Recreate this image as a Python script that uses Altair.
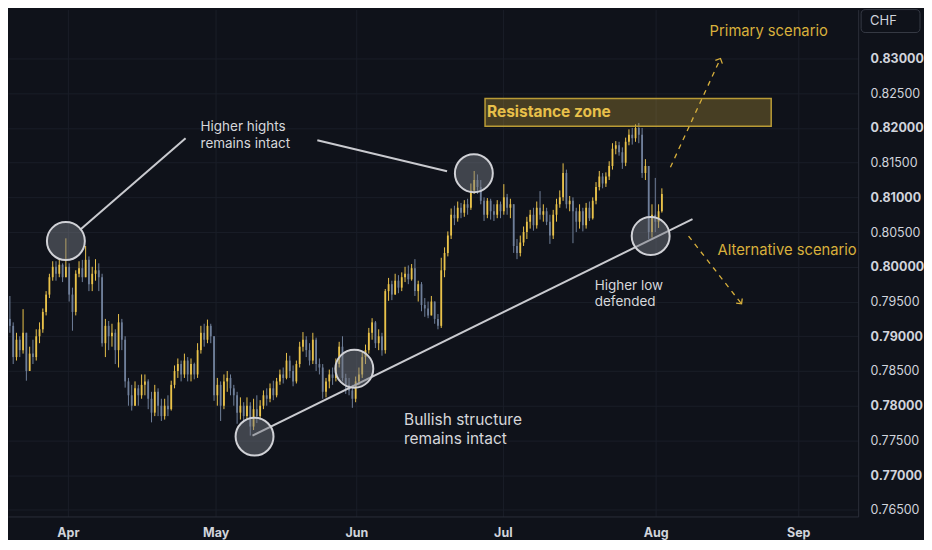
import json
import altair as alt
import pandas as pd

# ---------------- data (prices in pips, 1 pip = 0.0001) ----------------
first_open = 7845
close_p = [7850,7880,7925,7915,7870,7895,7880,7905,7850,7875,
7870,7900,7910,7935,7960,7985,8000,7990,8003,7985,
8000,7960,7935,7990,7998,7985,8010,7975,7990,7995,
7985,7890,7915,7900,7905,7880,7920,7895,7835,7815,
7800,7825,7815,7830,7835,7810,7790,7820,7800,7785,
7800,7795,7830,7850,7860,7845,7865,7845,7860,7845,
7880,7905,7895,7915,7900,7815,7830,7800,7835,7840,
7825,7815,7790,7800,7785,7800,7770,7795,7785,7800,
7815,7810,7825,7815,7835,7845,7840,7865,7850,7835,
7860,7885,7895,7880,7865,7895,7860,7855,7820,7835,
7845,7840,7860,7885,7840,7830,7822,7810,7835,7845,
7870,7880,7905,7920,7890,7900,7880,7965,7975,7960,
7980,7970,7985,7990,7982,7998,7965,7975,7945,7940,
7930,7950,7925,7915,7995,8020,8045,8075,8070,8085,
8078,8090,8085,8110,8125,8115,8095,8075,8095,8080,
8075,8090,8080,8100,8085,8090,8030,8020,8035,8050,
8065,8075,8060,8085,8075,8080,8065,8045,8075,8090,
8100,8135,8090,8095,8080,8065,8080,8060,8085,8070,
8095,8115,8130,8120,8130,8145,8170,8175,8165,8150,
8180,8190,8185,8200,8190,8135,8145,8050,8075,8065,
8080,8105]
high_p = [7862,7885,7935,7958,7920,7905,7900,7939,7905,7885,
7895,7910,7920,7940,7965,7990,8008,8008,8012,8005,
8041,8005,7970,7995,8008,8010,8030,8015,8000,8011,
8005,7990,7925,7922,7918,7910,7932,7925,7900,7840,
7830,7835,7830,7845,7845,7838,7820,7830,7825,7810,
7810,7815,7836,7858,7868,7865,7875,7870,7868,7862,
7890,7915,7918,7924,7918,7900,7840,7835,7845,7850,
7845,7830,7820,7812,7805,7812,7805,7810,7815,7808,
7822,7825,7832,7836,7840,7852,7855,7876,7872,7858,
7865,7892,7906,7900,7890,7905,7898,7868,7860,7840,
7852,7855,7868,7892,7900,7846,7840,7830,7842,7855,
7878,7888,7912,7926,7922,7910,7905,7968,7984,7980,
7990,7988,7992,8000,8002,8004,8011,7980,7978,7955,
7950,7958,7950,7932,8013,8028,8051,8084,8088,8094,
8092,8096,8098,8120,8138,8133,8125,8100,8099,8098,
8090,8096,8094,8119,8105,8098,8090,8040,8045,8058,
8072,8082,8085,8094,8109,8090,8085,8075,8082,8098,
8110,8149,8140,8102,8100,8085,8090,8085,8092,8094,
8100,8122,8138,8135,8136,8152,8178,8181,8180,8172,
8186,8198,8200,8205,8207,8200,8155,8145,8090,8128,
8090,8113]
low_p = [7842,7845,7875,7905,7860,7865,7870,7875,7836,7850,
7860,7865,7890,7905,7930,7955,7980,7980,7985,7978,
7985,7950,7908,7930,7985,7978,7985,7965,7965,7980,
7965,7885,7870,7880,7885,7860,7855,7880,7826,7800,
7793,7800,7800,7810,7815,7795,7776,7785,7785,7778,
7780,7785,7793,7825,7840,7835,7840,7835,7835,7838,
7840,7875,7885,7890,7890,7807,7800,7778,7795,7820,
7815,7800,7774,7780,7776,7780,7757,7765,7775,7780,
7795,7800,7805,7808,7812,7830,7832,7838,7840,7828,
7832,7855,7878,7870,7858,7860,7850,7845,7810,7812,
7825,7830,7835,7855,7835,7817,7815,7797,7805,7830,
7840,7860,7875,7895,7883,7880,7872,7875,7951,7952,
7962,7962,7965,7978,7975,7980,7958,7950,7936,7928,
7926,7930,7918,7910,7912,7985,8015,8040,8060,8065,
8070,8072,8075,8082,8105,8105,8090,8066,8070,8068,
8066,8070,8070,8075,8075,8070,8020,8011,8015,8030,
8040,8055,8052,8055,8068,8065,8060,8033,8040,8065,
8085,8095,8084,8080,8034,8050,8055,8051,8055,8066,
8068,8090,8110,8113,8115,8125,8140,8162,8160,8141,
8145,8175,8176,8180,8178,8128,8125,8040,8042,8050,
8056,8078]

month_labels = ["Apr", "May", "Jun", "Jul", "Aug", "Sep"]
month_pos = [20.6, 65.5, 108.2, 152.7, 199.1, 242.4]     # bar index of month start
price_ticks = [0.765, 0.770, 0.775, 0.780, 0.785, 0.790, 0.795,
               0.800, 0.805, 0.810, 0.815, 0.820, 0.825, 0.830]

# annotation anchors (bar index, price)
circle_x = [20.0, 143.9, 77.3, 107.6, 197.6]
circle_y = [0.80371, 0.81348, 0.77555, 0.78532, 0.80443]

solid_x = [24.24, 96.36, 76.67]
solid_y = [0.80529, 0.81822, 0.77569]
solid_x2 = [56.36, 135.76, 210.3]
solid_y2 = [0.81851, 0.81376, 0.80687]

dash_x = [203.6, 209.1]
dash_y = [0.81434, 0.80443]
dash_x2 = [218.8, 225.2]
dash_y2 = [0.83000, 0.79466]
arrow_angle = [25, 142]

zone_x = [147.3]
zone_x2 = [234.2]
zone_y = [0.82425]
zone_y2 = [0.82023]

note_text = ["Higher hights", "remains intact", "Higher low", "defended"]
note_x = [60.9, 60.9, 180.6, 180.6]
note_y = [0.82009, 0.81772, 0.79724, 0.79487]

big_note_text = ["Bullish structure", "remains intact"]
big_note_x = [122.7, 122.7]
big_note_y = [0.77792, 0.77519]

gold_text = ["Primary scenario", "Alternative scenario"]
gold_x = [215.5, 217.9]
gold_y = [0.83388, 0.80227]

zone_text = ["Resistance zone"]
zone_tx = [147.9]
zone_ty = [0.82224]

# ---------------- tables ----------------
opens = [first_open] + close_p[:-1]
rows = []
for i, (o, c, h, l) in enumerate(zip(opens, close_p, high_p, low_p)):
    rows.append({
        "i": i,
        "o": o / 10000, "c": c / 10000,
        "h": max(h, o, c) / 10000, "l": min(l, o, c) / 10000,
        "dir": "up" if c >= o else "down",
    })
candles = pd.DataFrame(rows)

circles = pd.DataFrame({"x": circle_x, "y": circle_y})
solids = pd.DataFrame({"x": solid_x, "y": solid_y, "x2": solid_x2, "y2": solid_y2})
dashes = pd.DataFrame({"x": dash_x, "y": dash_y, "x2": dash_x2, "y2": dash_y2})
arrows = pd.DataFrame({"x": dash_x2, "y": dash_y2, "ang": arrow_angle})
zone = pd.DataFrame({"x": zone_x, "x2": zone_x2, "y": zone_y, "y2": zone_y2})
notes = pd.DataFrame({"x": note_x, "y": note_y, "t": note_text})
big_notes = pd.DataFrame({"x": big_note_x, "y": big_note_y, "t": big_note_text})
golds = pd.DataFrame({"x": gold_x, "y": gold_y, "t": gold_text})
ztext = pd.DataFrame({"x": zone_tx, "y": zone_ty, "t": zone_text})

# ---------------- styling ----------------
BG = "#0f121a"
GRID = "#1a1e28"
SEP = "#2a2e39"
UP = "#e9c24a"
DOWN = "#6f7f9a"
GOLD = "#d8b03c"
LABEL = "#d1d4dc"
NOTE = "#d6d7db"
FONT = "Inter"

xs = alt.Scale(domain=[2.424, 260.606], nice=False, zero=False)
ys = alt.Scale(domain=[0.76405, 0.83704], nice=False, zero=False)

label_expr = "%s[indexof(%s, datum.value)]" % (json.dumps(month_labels), json.dumps(month_pos))

x_axis = alt.Axis(values=month_pos, labelExpr=label_expr, title=None, grid=True,
                  gridColor=GRID, domainColor=SEP, ticks=False, labelColor=LABEL,
                  labelFont=FONT, labelFontSize=12.5, labelFontWeight="bold",
                  labelPadding=10)
y_axis = alt.Axis(orient="right", values=price_ticks, format=".5f", title=None,
                  grid=True, gridColor=GRID, domainColor=SEP, ticks=False,
                  labelColor=LABEL, labelFont=FONT, labelFontSize=12.5,
                  labelFontWeight={"condition": {"test": "abs(datum.value*100 - round(datum.value*100)) < 0.0001",
                                                 "value": "bold"}, "value": "normal"},
                  labelPadding=12, labelAlign="left")

cs = alt.Scale(domain=["up", "down"], range=[UP, DOWN])


def X(f):
    return alt.X(f, type="quantitative", scale=xs, axis=x_axis)


def Y(f):
    return alt.Y(f, type="quantitative", scale=ys, axis=y_axis)


wicks = alt.Chart(candles).mark_rule(strokeWidth=1, clip=True).encode(
    x=X("i"), y=Y("l"), y2="h:Q", color=alt.Color("dir:N", scale=cs, legend=None))
bodies = alt.Chart(candles).mark_rule(strokeWidth=1.8, clip=True).encode(
    x=X("i"), y=Y("o"), y2="c:Q", color=alt.Color("dir:N", scale=cs, legend=None))

zone_rect = alt.Chart(zone).mark_rect(fill="#e6be3c", fillOpacity=0.26, stroke="#b99b36",
                                      strokeWidth=1.5).encode(
    x=X("x"), x2="x2:Q", y=Y("y"), y2="y2:Q")

solid_lines = alt.Chart(solids).mark_rule(color="#c9cacf", strokeWidth=2).encode(
    x=X("x"), y=Y("y"), x2="x2:Q", y2="y2:Q")
dash_lines = alt.Chart(dashes).mark_rule(color=GOLD, strokeWidth=1.3, strokeDash=[5, 5]).encode(
    x=X("x"), y=Y("y"), x2="x2:Q", y2="y2:Q")
arrow_heads = alt.Chart(arrows).mark_point(shape="M-1,1L0,0L1,1", size=60, filled=False,
                                           color=GOLD, strokeWidth=1.3, opacity=1).encode(
    x=X("x"), y=Y("y"), angle=alt.Angle("ang:Q", scale=None))

circle_marks = alt.Chart(circles).mark_point(shape="circle", size=1444, filled=True,
                                             fill="#787b84", fillOpacity=0.48,
                                             stroke="#d0d1d6", strokeWidth=2,
                                             strokeOpacity=1, opacity=1).encode(
    x=X("x"), y=Y("y"))

note_labels = alt.Chart(notes).mark_text(align="left", baseline="middle", font=FONT,
                                         fontSize=13.5, color=NOTE).encode(
    x=X("x"), y=Y("y"), text="t:N")
big_note_labels = alt.Chart(big_notes).mark_text(align="left", baseline="middle", font=FONT,
                                                 fontSize=15.5, color=NOTE).encode(
    x=X("x"), y=Y("y"), text="t:N")
gold_labels = alt.Chart(golds).mark_text(align="left", baseline="middle", font=FONT,
                                         fontSize=14.8, color=GOLD).encode(
    x=X("x"), y=Y("y"), text="t:N")
zone_label = alt.Chart(ztext).mark_text(align="left", baseline="middle", font=FONT,
                                        fontSize=15.5, fontWeight="bold", color="#e8c04a").encode(
    x=X("x"), y=Y("y"), text="t:N")

chf_box = alt.Chart(zone).mark_rect(fill=BG, stroke="#363a45", strokeWidth=1,
                                    cornerRadius=4).encode(
    x=alt.value(855), x2=alt.value(914), y=alt.value(0), y2=alt.value(23))
chf_text = alt.Chart(zone).mark_text(align="left", baseline="middle", font=FONT,
                                     fontSize=13, color=LABEL, text="CHF").encode(
    x=alt.value(864), y=alt.value(11.5))

chart = alt.layer(
    wicks, bodies, zone_rect, solid_lines, dash_lines, arrow_heads, circle_marks,
    note_labels, big_note_labels, gold_labels, zone_label, chf_box, chf_text
).properties(
    width=852, height=508, background=BG, padding=0
).configure_view(stroke=None)

chart.save("out.html", embed_options={"renderer": "svg", "actions": False})
